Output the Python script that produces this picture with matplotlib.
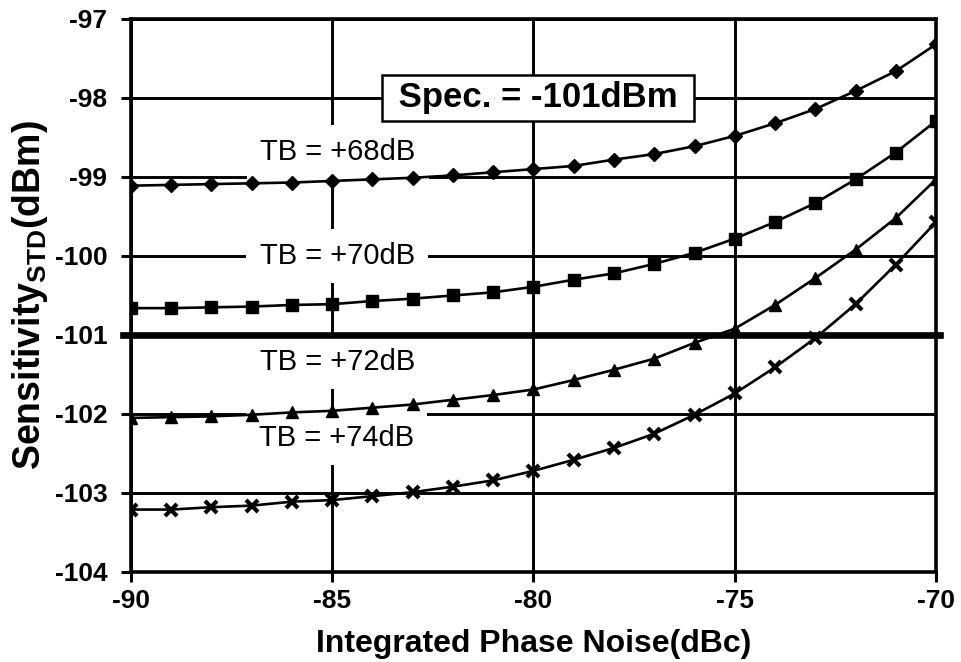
import matplotlib
matplotlib.use('Agg')
import matplotlib.pyplot as plt

plt.rcParams['font.family'] = ['Liberation Sans', 'DejaVu Sans']
plt.rcParams['axes.unicode_minus'] = False

# --- Dados ---
ruido_fase = [-90, -89, -88, -87, -86, -85, -84, -83, -82, -81, -80,
              -79, -78, -77, -76, -75, -74, -73, -72, -71, -70]

sens_tb68 = [-99.11, -99.10, -99.09, -99.08, -99.07, -99.05, -99.03, -99.01, -98.98, -98.94, -98.90,
             -98.86, -98.78, -98.71, -98.61, -98.48, -98.32, -98.14, -97.91, -97.66, -97.32]
sens_tb70 = [-100.66, -100.66, -100.65, -100.64, -100.62, -100.61, -100.57, -100.54, -100.50, -100.46, -100.39,
             -100.30, -100.22, -100.10, -99.96, -99.78, -99.57, -99.33, -99.03, -98.69, -98.29]
sens_tb72 = [-102.05, -102.04, -102.03, -102.01, -101.98, -101.96, -101.92, -101.88, -101.82, -101.76, -101.69,
             -101.57, -101.44, -101.30, -101.10, -100.92, -100.62, -100.28, -99.92, -99.52, -99.03]
sens_tb74 = [-103.21, -103.21, -103.18, -103.16, -103.11, -103.09, -103.04, -102.99, -102.92, -102.84, -102.72,
             -102.58, -102.43, -102.25, -102.01, -101.74, -101.41, -101.04, -100.61, -100.11, -99.57]

spec = -101
rotulos_tb = ['TB = +68dB', 'TB = +70dB', 'TB = +72dB', 'TB = +74dB']

fig = plt.figure(figsize=(9.61, 6.62), dpi=100)
ax = fig.add_axes([0.1363, 0.136, 0.8377, 0.8353])

# curvas
ax.plot(ruido_fase, sens_tb68, color='black', lw=1.9, marker='D', ms=7.5, zorder=5)
ax.plot(ruido_fase, sens_tb70, color='black', lw=1.9, marker='s', ms=9, zorder=5)
ax.plot(ruido_fase, sens_tb72, color='black', lw=1.9, marker='^', ms=9, zorder=5)
ax.plot(ruido_fase, sens_tb74, color='black', lw=1.9, marker='x', ms=8, mew=3, zorder=5)

# linha da especificação
ax.axhline(spec, xmin=-0.01, xmax=1.005, color='black', lw=4.8, zorder=4, clip_on=False)

ax.set_xlim(-90, -70)
ax.set_ylim(-104, -97)
ax.set_xticks([-90, -85, -80, -75, -70])
ax.set_yticks(range(-104, -96))
ax.grid(True, color='black', lw=2.1)
ax.set_axisbelow(True)
for s in ax.spines.values():
    s.set_linewidth(2.6)
ax.tick_params(direction='out', length=7, width=2.2, labelsize=19)
ax.tick_params(axis='y', pad=10)
ax.tick_params(axis='x', pad=5)
for lbl in ax.get_xticklabels() + ax.get_yticklabels():
    lbl.set_fontweight('bold')

ax.set_xlabel('Integrated Phase Noise(dBc)', fontsize=23, fontweight='bold', labelpad=12)
ax.set_ylabel('Sensitivity$_{\\mathregular{STD}}$(dBm)', fontsize=27, fontweight='bold', labelpad=3)

# rótulos
caixa = dict(boxstyle='square,pad=0.45', facecolor='white', edgecolor='none')
ax.text(-84.86, -98.68, rotulos_tb[0], fontsize=21, ha='center', va='center', bbox=caixa, zorder=3)
ax.text(-84.88, -100.0, rotulos_tb[1], fontsize=21, ha='center', va='center', bbox=caixa, zorder=3)
ax.text(-84.86, -101.34, rotulos_tb[2], fontsize=21, ha='center', va='center', bbox=caixa, zorder=3)
ax.text(-84.90, -102.30, rotulos_tb[3], fontsize=21, ha='center', va='center', bbox=caixa, zorder=3)

ax.text(-79.89, -98.0, ' Spec. = -101dBm ', fontsize=25, fontweight='bold', ha='center', va='center',
        bbox=dict(boxstyle='square,pad=0.2', facecolor='white', edgecolor='black', lw=1.8), zorder=6)

fig.savefig('out.png', dpi=100)
